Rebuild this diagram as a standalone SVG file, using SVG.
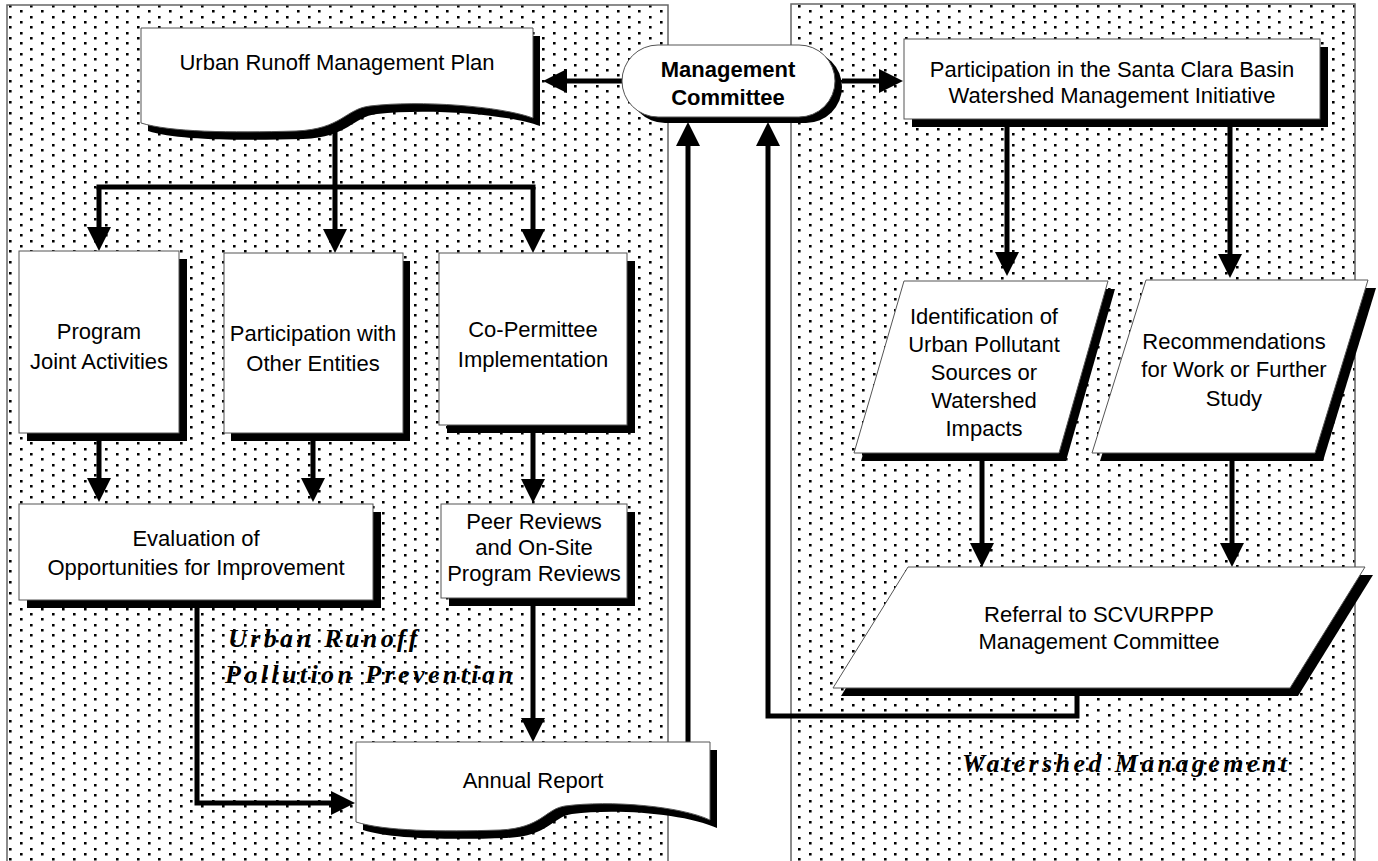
<svg xmlns="http://www.w3.org/2000/svg" width="1378" height="861" viewBox="0 0 1378 861">
<style>
.box{fill:#fff;stroke:#555;stroke-width:1}
.sh{fill:#000}
.t{font-family:"Liberation Sans",Arial,sans-serif;font-size:22px;fill:#000;text-anchor:middle}
.b{font-weight:bold}
.c{fill:none;stroke:#000;stroke-width:5;stroke-linejoin:miter}
.a{marker-end:url(#ah)}
.lbl{font-family:"Liberation Serif","Times New Roman",serif;font-weight:bold;font-style:italic;font-size:26px;letter-spacing:3.4px;fill:#000}
.panel{fill:url(#dots);stroke:#666;stroke-width:1.5}
</style>
<defs>
<pattern id="dots" patternUnits="userSpaceOnUse" x="9" y="5" width="64" height="32">
<path fill="#000" d="M0,0h2.6v2.6h-2.6z M21,0h2.6v2.6h-2.6z M43,0h2.6v2.6h-2.6z M11,5h2.6v2.6h-2.6z M32,5h2.6v2.6h-2.6z M53,5h2.6v2.6h-2.6z M0,11h2.6v2.6h-2.6z M21,11h2.6v2.6h-2.6z M43,11h2.6v2.6h-2.6z M11,16h2.6v2.6h-2.6z M32,16h2.6v2.6h-2.6z M53,16h2.6v2.6h-2.6z M0,21h2.6v2.6h-2.6z M21,21h2.6v2.6h-2.6z M43,21h2.6v2.6h-2.6z M11,27h2.6v2.6h-2.6z M32,27h2.6v2.6h-2.6z M53,27h2.6v2.6h-2.6z"/>
</pattern>
<marker id="ah" markerUnits="userSpaceOnUse" markerWidth="24" markerHeight="24" refX="4" refY="12" orient="auto">
<path d="M0,0 L24,12 L0,24 Z" fill="#000"/>
</marker>
</defs>
<rect width="1378" height="861" fill="#fff"/>
<g id="panels">
<rect class="panel" x="7" y="5" width="661" height="870"/>
<rect class="panel" x="791" y="4" width="564" height="870"/>
</g>
<g id="labels">
<text class="lbl" x="228" y="647">Urban Runoff</text>
<text class="lbl" x="225" y="683">Pollution Preventian</text>
<text class="lbl" x="962" y="772">Watershed Management</text>
</g>
<g id="connectors">
<path class="c a" d="M622,81 H563"/>
<path class="c a" d="M842,81 H883"/>
<path class="c" d="M335,126 V187 M96.5,187 H535.5"/>
<path class="c a" d="M99,187 V231"/>
<path class="c a" d="M335,187 V233"/>
<path class="c a" d="M533,187 V233"/>
<path class="c a" d="M99,441 V482"/>
<path class="c a" d="M313,441 V482"/>
<path class="c a" d="M533,433 V483"/>
<path class="c a" d="M197,608 V803 H335"/>
<path class="c a" d="M533,605 V722"/>
<path class="c a" d="M688,742 V142"/>
<path class="c a" d="M1077,695 V716 H768 V142"/>
<path class="c a" d="M1007,127 V256"/>
<path class="c a" d="M1230,127 V258"/>
<path class="c a" d="M982,460 V547"/>
<path class="c a" d="M1232,460 V547"/>
</g>
<g id="urban-plan">
<path class="sh" transform="translate(7,8)" d="M141,28 H533 V118 C500,106 420,100 370,106 C345,109 342,129 296,131 C230,133 170,132 141,123 Z"/>
<path class="box" d="M141,28 H533 V118 C500,106 420,100 370,106 C345,109 342,129 296,131 C230,133 170,132 141,123 Z"/>
<text class="t" x="337" y="70">Urban Runoff Management Plan</text>
</g>
<g id="mgmt-committee">
<rect class="sh" x="629" y="51" width="213" height="72" rx="36"/>
<rect class="box" x="622" y="45" width="213" height="72" rx="36" stroke="#000"/>
<text class="t b" x="728" y="77">Management</text>
<text class="t b" x="728" y="105">Committee</text>
</g>
<g id="santa-clara">
<rect class="sh" x="912" y="47" width="416" height="80"/>
<rect class="box" x="904" y="39" width="416" height="80"/>
<text class="t" x="1112" y="77">Participation in the Santa Clara Basin</text>
<text class="t" x="1112" y="103">Watershed Management Initiative</text>
</g>
<g id="joint-activities">
<rect class="sh" x="27" y="259" width="160" height="182"/>
<rect class="box" x="19" y="251" width="160" height="182"/>
<text class="t" x="99" y="339">Program</text>
<text class="t" x="99" y="369">Joint Activities</text>
</g>
<g id="other-entities">
<rect class="sh" x="231" y="261" width="179" height="180"/>
<rect class="box" x="224" y="253" width="179" height="180"/>
<text class="t" x="313" y="341">Participation with</text>
<text class="t" x="313" y="371">Other Entities</text>
</g>
<g id="co-permittee">
<rect class="sh" x="447" y="261" width="188" height="172"/>
<rect class="box" x="439" y="253" width="188" height="172"/>
<text class="t" x="533" y="337">Co-Permittee</text>
<text class="t" x="533" y="367">Implementation</text>
</g>
<g id="evaluation">
<rect class="sh" x="27" y="512" width="354" height="96"/>
<rect class="box" x="19" y="504" width="354" height="96"/>
<text class="t" x="196" y="546">Evaluation of</text>
<text class="t" x="196" y="575">Opportunities for Improvement</text>
</g>
<g id="peer-reviews">
<rect class="sh" x="449" y="512" width="186" height="94"/>
<rect class="box" x="441" y="504" width="186" height="94"/>
<text class="t" x="534" y="529">Peer Reviews</text>
<text class="t" x="534" y="555">and On-Site</text>
<text class="t" x="534" y="581">Program Reviews</text>
</g>
<g id="annual-report">
<path class="sh" transform="translate(7,8)" d="M356,742 H710 V820 C680,806 610,800 565,806 C545,809 542,828 500,830 C440,832 385,831 356,822 Z"/>
<path class="box" d="M356,742 H710 V820 C680,806 610,800 565,806 C545,809 542,828 500,830 C440,832 385,831 356,822 Z"/>
<text class="t" x="533" y="788">Annual Report</text>
</g>
<g id="identification">
<polygon class="sh" transform="translate(7,8)" points="904,281 1108,281 1059,453 854,453"/>
<polygon class="box" points="904,281 1108,281 1059,453 854,453"/>
<text class="t" x="984" y="324">Identification of</text>
<text class="t" x="984" y="352">Urban Pollutant</text>
<text class="t" x="984" y="380">Sources or</text>
<text class="t" x="984" y="408">Watershed</text>
<text class="t" x="984" y="436">Impacts</text>
</g>
<g id="recommendations">
<polygon class="sh" transform="translate(8,8)" points="1146,280 1368,280 1315,453 1092,453"/>
<polygon class="box" points="1146,280 1368,280 1315,453 1092,453"/>
<text class="t" x="1234" y="349">Recommendations</text>
<text class="t" x="1234" y="377">for Work or Further</text>
<text class="t" x="1234" y="406">Study</text>
</g>
<g id="referral">
<polygon class="sh" transform="translate(8,8)" points="908,567 1365,567 1290,688 833,688"/>
<polygon class="box" points="908,567 1365,567 1290,688 833,688"/>
<text class="t" x="1099" y="622">Referral to SCVURPPP</text>
<text class="t" x="1099" y="649">Management Committee</text>
</g>
</svg>
